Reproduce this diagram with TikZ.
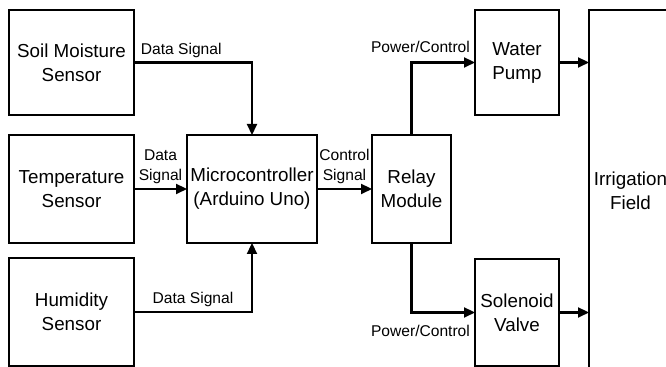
\documentclass[tikz,border=0pt]{standalone}
\usepackage{fontspec}
\setmainfont{Liberation Sans}
\usetikzlibrary{arrows.meta}
\tikzset{
  bloque/.style={draw, line width=1.1pt, inner sep=0pt, outer sep=0pt, align=center,
    font=\fontsize{9.4}{12}\selectfont},
  flecha/.style={line width=1.1pt, -{Triangle[length=5.5pt,width=5pt]}},
  etiq/.style={font=\fontsize{7.8}{10}\selectfont, align=center, inner sep=2pt}
}
\begin{document}
\begin{tikzpicture}[x=0.5pt,y=-0.5pt]
        \useasboundingbox (0,0) rectangle (666,367);
        % sensores
        \node[bloque, minimum width=62.5pt, minimum height=52.5pt] (suelo) at (71.5,62.5) {Soil Moisture\\Sensor};
        \node[bloque, minimum width=62.5pt, minimum height=54pt] (temp) at (71.5,189) {Temperature\\Sensor};
        \node[bloque, minimum width=62.5pt, minimum height=54pt] (hum) at (71.5,312) {Humidity\\Sensor};
        % microcontrolador y rele
        \node[bloque, minimum width=65pt, minimum height=54pt] (micro) at (252,189) {Microcontroller\\(Arduino Uno)};
        \node[bloque, minimum width=39.5pt, minimum height=54pt] (rele) at (411.5,189) {Relay\\Module};
        % actuadores
        \node[bloque, minimum width=42pt, minimum height=52.5pt] (bomba) at (517,62.5) {Water\\Pump};
        \node[bloque, minimum width=42pt, minimum height=53.5pt] (valvula) at (517,312.5) {Solenoid\\Valve};
        % campo (cortado a la derecha)
        \node[bloque, minimum width=41.5pt, minimum height=181pt] (campo) at (630.5,191) {Irrigation\\Field};
        % senales de datos
        \draw[flecha] (suelo.east) -| node[etiq, pos=0.2, above] {Data Signal} (micro.north);
        \draw[flecha] (temp.east) -- node[etiq, above] {Data\\Signal} (micro.west);
        \draw[flecha] (hum.east) -| node[etiq, pos=0.25, above] {Data Signal} (micro.south);
        % control
        \draw[flecha] (micro.east) -- node[etiq, above] {Control\\Signal} (rele.west);
        \draw[flecha] (rele.north) |- node[etiq, pos=1, above left, yshift=2.5pt] {Power/Control} (bomba.west);
        \draw[flecha] (rele.south) |- node[etiq, pos=1, below left, yshift=-4pt] {Power/Control} (valvula.west);
        % agua al campo
        \draw[flecha] (bomba.east) -- (bomba.east -| campo.west);
        \draw[flecha] (valvula.east) -- (valvula.east -| campo.west);
\end{tikzpicture}
\end{document}
